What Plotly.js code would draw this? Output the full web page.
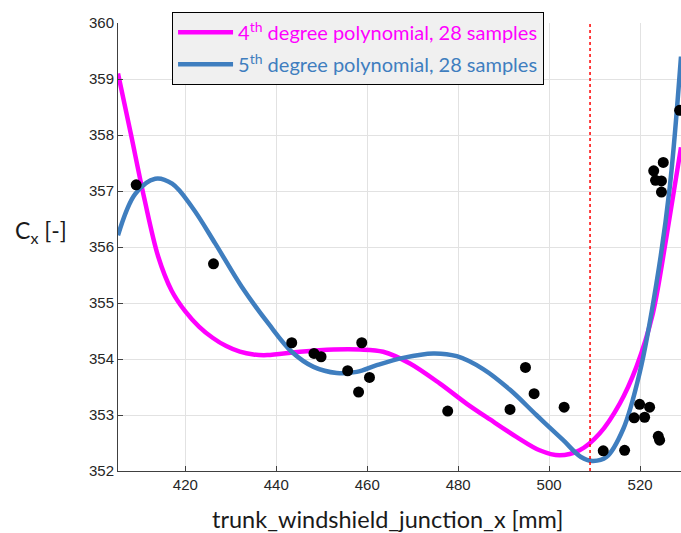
<!DOCTYPE html>
<html>
<head>
<meta charset="utf-8">
<script src="https://cdn.plot.ly/plotly-3.0.1.min.js"></script>
<style>html,body{margin:0;padding:0;background:#fff;}#chart{width:681px;height:533px;}</style>
</head>
<body>
<div id="chart"></div>
<script>
// Sample points
const sampleX = [409.2, 426.2, 443.4, 448.3, 449.85, 455.7, 458.8, 458.1, 460.5, 477.7, 491.4, 494.8, 496.7, 503.3, 511.9, 516.6, 518.7, 519.9, 521.0, 522.1, 524.0, 524.3, 523.0, 525.1, 523.4, 524.7, 524.7, 528.7];
const sampleY = [357.11, 355.70, 354.29, 354.10, 354.04, 353.79, 354.29, 353.41, 353.67, 353.07, 353.10, 353.85, 353.38, 353.14, 352.36, 352.37, 352.95, 353.19, 352.96, 353.14, 352.62, 352.55, 357.36, 357.51, 357.19, 357.18, 356.98, 358.44];

// 4th degree polynomial curve
const poly4X = [405.2, 408.0, 411.0, 414.0, 417.0, 420.0, 423.0, 426.0, 429.0, 432.0, 435.0, 438.0, 445.2, 452.6, 458.4, 463.5, 469.4, 476.0, 481.9, 487.0, 492.8, 497.9, 502.3, 506.7, 511.1, 515.5, 519.2, 522.8, 525.8, 529.0];
const poly4Y = [359.10, 358.03, 356.86, 355.84, 355.22, 354.85, 354.58, 354.38, 354.23, 354.13, 354.08, 354.07, 354.13, 354.17, 354.17, 354.13, 353.92, 353.56, 353.20, 352.92, 352.61, 352.37, 352.28, 352.37, 352.67, 353.20, 353.86, 354.81, 356.18, 357.78];

// 5th degree polynomial curve
const poly5X = [405.2, 409.0, 413.4, 417.1, 421.5, 426.6, 432.4, 438.3, 443.4, 448.2, 453.3, 457.7, 462.1, 467.9, 474.5, 479.7, 485.5, 491.4, 497.2, 503.1, 507.0, 509.5, 512.6, 516.3, 519.9, 523.6, 526.5, 529.0];
const poly5Y = [356.21, 356.95, 357.22, 357.13, 356.71, 356.06, 355.29, 354.63, 354.13, 353.86, 353.75, 353.77, 353.89, 354.02, 354.10, 354.05, 353.82, 353.45, 353.00, 352.55, 352.25, 352.18, 352.25, 352.75, 353.75, 355.35, 357.05, 359.40];

// Vertical reference line position
const refLineX = [509.0];

const xTicks = [420, 440, 460, 480, 500, 520];
const yTicks = [352, 353, 354, 355, 356, 357, 358, 359, 360];

const magenta = '#ff00ff';
const blue = '#3f7ebf';

const traces = [
  {x: poly4X, y: poly4Y, type: 'scatter', mode: 'lines', line: {color: magenta, width: 4.5, shape: 'spline', smoothing: 0.9},
   name: '<span style="color:' + magenta + '">4<sup>th</sup> degree polynomial, 28 samples</span>', legendgroup: 'a'},
  {x: poly5X, y: poly5Y, type: 'scatter', mode: 'lines', line: {color: blue, width: 4.5, shape: 'spline', smoothing: 1},
   name: '<span style="color:' + blue + '">5<sup>th</sup> degree polynomial, 28 samples</span>', legendgroup: 'b'},
  {x: sampleX, y: sampleY, type: 'scatter', mode: 'markers', marker: {color: '#000', size: 11}, showlegend: false, hoverinfo: 'skip'}
];

const axisFont = {family: '"Liberation Sans", Arial, sans-serif', size: 15, color: '#262626'};

const layout = {
  width: 681, height: 533,
  margin: {l: 118, r: 0, t: 23, b: 62},
  paper_bgcolor: '#fff', plot_bgcolor: '#fff',
  showlegend: true,
  legend: {
    x: 0.096, y: 1.025, xanchor: 'left', yanchor: 'top',
    bgcolor: '#f0f0f0', bordercolor: '#000', borderwidth: 1,
    font: {family: 'Lato, "Open Sans", sans-serif', size: 20},
    traceorder: 'grouped', tracegroupgap: 3, itemwidth: 55
  },
  xaxis: {
    range: [405.2, 529.0], tickvals: xTicks, ticktext: xTicks.map(String),
    showgrid: true, gridcolor: '#e2e2e2', gridwidth: 1,
    showline: true, linecolor: '#404040', linewidth: 1,
    ticks: 'inside', ticklen: 5, tickcolor: '#404040',
    tickfont: axisFont, zeroline: false
  },
  yaxis: {
    range: [352, 360], tickvals: yTicks, ticktext: yTicks.map(String),
    showgrid: true, gridcolor: '#e2e2e2', gridwidth: 1,
    showline: true, linecolor: '#404040', linewidth: 1,
    ticks: 'inside', ticklen: 5, tickcolor: '#404040',
    tickfont: axisFont, zeroline: false
  },
  shapes: [
    {type: 'line', xref: 'x', yref: 'paper', x0: refLineX[0], x1: refLineX[0], y0: 0, y1: 1,
     line: {color: '#ff0000', width: 1.5, dash: 'dot'}}
  ],
  annotations: [
    {text: 'trunk_windshield_junction_x [mm]', xref: 'paper', yref: 'paper', x: 0.478, y: -0.108,
     xanchor: 'center', yanchor: 'middle', showarrow: false,
     font: {family: 'Lato, "Open Sans", sans-serif', size: 23.5, color: '#1a1a1a'}},
    {text: 'C<sub>x</sub> [-]', xref: 'paper', yref: 'paper', x: -0.187, y: 0.535,
     xanchor: 'left', yanchor: 'middle', showarrow: false,
     font: {family: 'Lato, "Open Sans", sans-serif', size: 23, color: '#1a1a1a'}}
  ]
};

Plotly.newPlot('chart', traces, layout, {displayModeBar: false, staticPlot: true});
</script>
</body>
</html>
